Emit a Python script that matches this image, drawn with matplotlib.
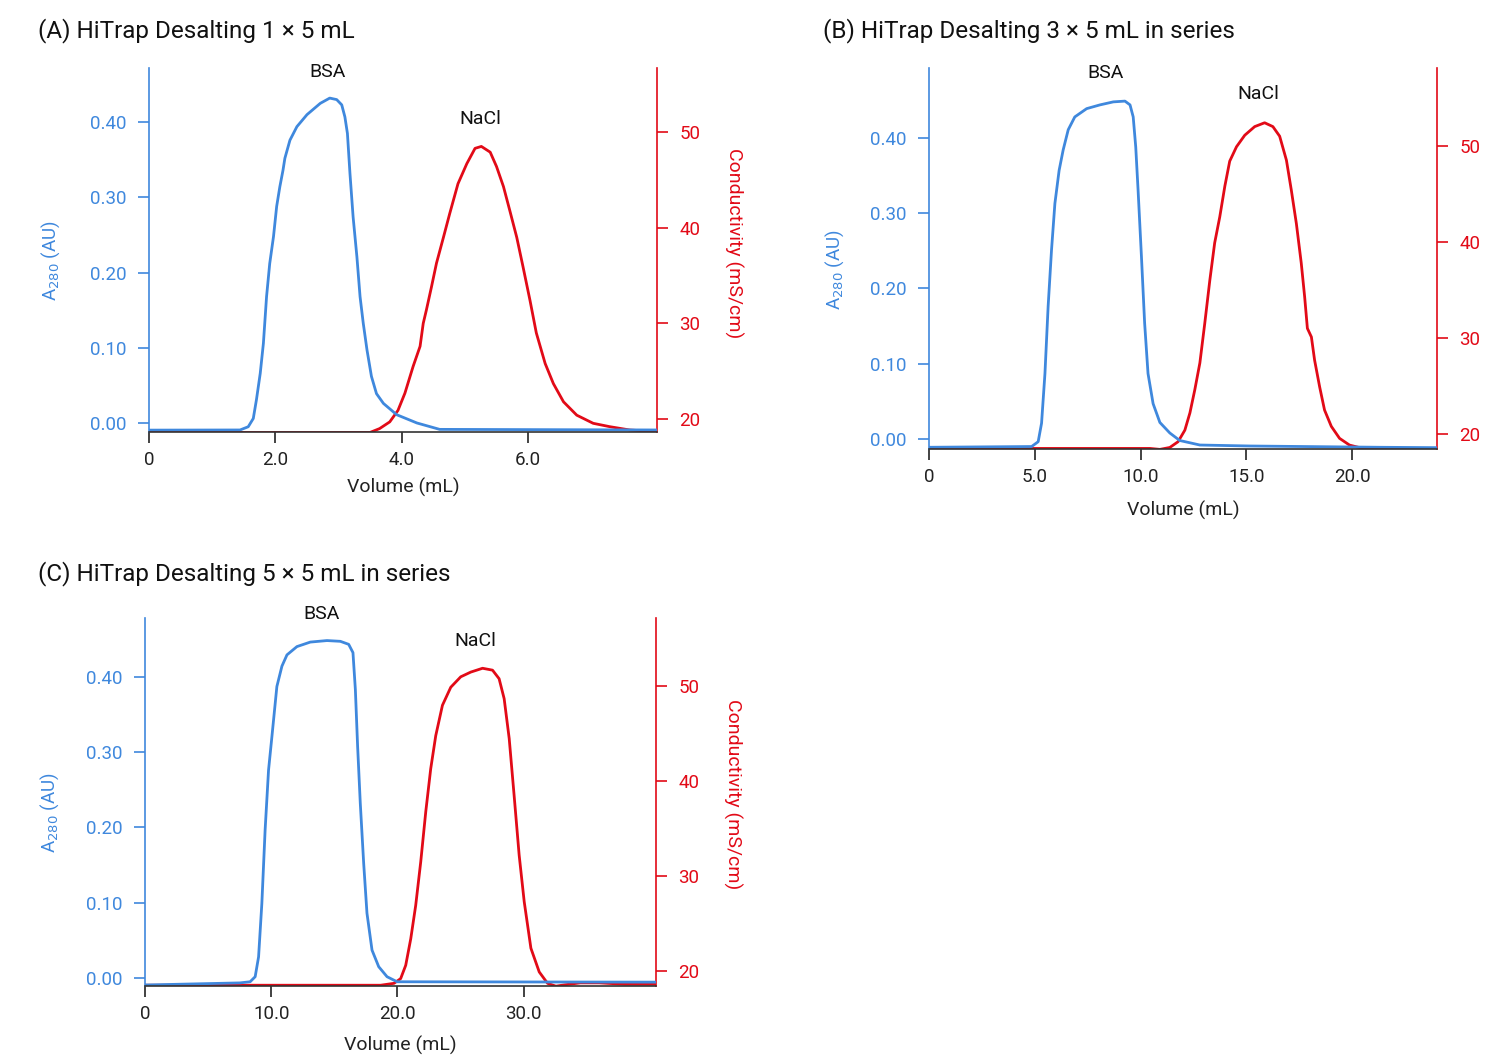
import matplotlib.pyplot as plt

plt.rcParams['font.family'] = ['Roboto', 'DejaVu Sans']

BLUE = '#3F88DD'
RED = '#E20A17'

# Panel A: HiTrap Desalting 1 x 5 mL
a_uv_x = [0, 1.44, 1.57, 1.65, 1.70, 1.76, 1.81, 1.86, 1.91, 1.97, 2.02, 2.07, 2.12, 2.15,
          2.23, 2.34, 2.50, 2.71, 2.86, 2.97, 3.05, 3.10, 3.14, 3.18, 3.23, 3.29, 3.34, 3.39,
          3.45, 3.52, 3.60, 3.71, 3.92, 4.24, 4.60, 8.04]
a_uv_y = [-0.0095, -0.0093, -0.005, 0.006, 0.031, 0.066, 0.106, 0.168, 0.212, 0.248, 0.288,
          0.314, 0.336, 0.352, 0.376, 0.394, 0.410, 0.425, 0.432, 0.430, 0.423, 0.407, 0.385,
          0.332, 0.274, 0.221, 0.168, 0.133, 0.097, 0.062, 0.039, 0.026, 0.011, 0.0, -0.0085,
          -0.0093]
a_cond_x = [0, 3.50, 3.65, 3.81, 3.94, 4.05, 4.18, 4.29, 4.34, 4.39, 4.47, 4.55, 4.66, 4.76,
            4.89, 5.03, 5.16, 5.26, 5.40, 5.50, 5.61, 5.71, 5.82, 5.92, 6.03, 6.13, 6.27,
            6.40, 6.56, 6.77, 7.03, 7.29, 7.61, 8.04]
a_cond_y = [18.6, 18.6, 19.0, 19.7, 20.9, 22.7, 25.5, 27.6, 30.0, 31.4, 33.8, 36.3, 39.0,
            41.5, 44.6, 46.7, 48.3, 48.5, 47.9, 46.4, 44.3, 41.8, 39.0, 35.9, 32.4, 29.0,
            25.8, 23.7, 21.8, 20.4, 19.55, 19.2, 18.85, 18.67]

# Panel B: HiTrap Desalting 3 x 5 mL in series
b_uv_x = [0, 4.85, 5.16, 5.32, 5.48, 5.63, 5.79, 5.95, 6.15, 6.34, 6.58, 6.89, 7.45, 8.08,
          8.71, 9.26, 9.50, 9.65, 9.77, 9.88, 10.04, 10.19, 10.35, 10.59, 10.91, 11.38,
          11.85, 12.80, 15.16, 21.3, 24.0]
b_uv_y = [-0.011, -0.010, -0.0036, 0.021, 0.087, 0.176, 0.251, 0.313, 0.357, 0.384, 0.411,
          0.428, 0.439, 0.444, 0.448, 0.449, 0.444, 0.428, 0.388, 0.331, 0.242, 0.154, 0.087,
          0.047, 0.022, 0.008, -0.002, -0.008, -0.0093, -0.011, -0.0115]
b_cond_x = [0, 10.44, 10.91, 11.38, 11.77, 12.09, 12.33, 12.56, 12.80, 13.03, 13.27, 13.50,
            13.74, 13.98, 14.21, 14.53, 14.92, 15.39, 15.86, 16.25, 16.57, 16.89, 17.12,
            17.36, 17.59, 17.75, 17.88, 18.07, 18.22, 18.46, 18.69, 19.01, 19.40, 19.87,
            20.50, 24.0]
b_cond_y = [18.5, 18.5, 18.4, 18.6, 19.2, 20.4, 22.2, 24.6, 27.4, 31.5, 36.0, 39.9, 42.6,
            45.8, 48.4, 49.9, 51.1, 52.0, 52.4, 52.0, 51.0, 48.5, 45.4, 41.9, 37.8, 34.3,
            31.0, 30.1, 27.7, 24.9, 22.5, 20.8, 19.55, 18.85, 18.5, 18.5]

# Panel C: HiTrap Desalting 5 x 5 mL in series
c_uv_x = [0, 7.52, 8.33, 8.73, 9.0, 9.26, 9.52, 9.79, 10.06, 10.45, 10.85, 11.25, 12.04,
          13.10, 14.42, 15.48, 16.14, 16.48, 16.67, 16.85, 17.06, 17.33, 17.59, 17.99, 18.52,
          19.18, 19.98, 40.5]
c_uv_y = [-0.0093, -0.0065, -0.005, 0.0017, 0.028, 0.099, 0.197, 0.276, 0.321, 0.387, 0.414,
          0.429, 0.440, 0.446, 0.448, 0.447, 0.443, 0.432, 0.383, 0.307, 0.232, 0.152, 0.086,
          0.037, 0.015, 0.0017, -0.005, -0.0055]
c_cond_x = [0, 18.67, 19.73, 20.26, 20.66, 21.06, 21.45, 21.85, 22.25, 22.64, 23.04, 23.57,
            24.23, 25.02, 25.82, 26.75, 27.54, 28.06, 28.46, 28.86, 29.25, 29.65, 30.05,
            30.58, 31.24, 31.90, 32.56, 33.3, 34.5, 36.0, 38.0, 40.5]
c_cond_y = [18.5, 18.5, 18.7, 19.2, 20.6, 23.4, 26.9, 31.5, 36.8, 41.3, 44.8, 48.0, 49.9,
            51.0, 51.5, 51.9, 51.7, 50.8, 48.7, 44.5, 38.5, 32.2, 27.3, 22.4, 19.9, 18.7,
            18.4, 18.55, 18.75, 18.75, 18.6, 18.6]

uv_ticks = [0.0, 0.1, 0.2, 0.3, 0.4]
uv_labels = ['0.00', '0.10', '0.20', '0.30', '0.40']
cond_ticks = [20, 30, 40, 50]

panels = [
    dict(title='(A) HiTrap Desalting 1 × 5 mL', rect=[0.0993, 0.5909, 0.3384, 0.3447],
         uv=(a_uv_x, a_uv_y), cond=(a_cond_x, a_cond_y), xmax=8.04,
         xticks=[0, 2, 4, 6], xlabels=['0', '2.0', '4.0', '6.0'],
         ylim=(-0.012, 0.472), clim=(18.64, 56.7),
         bsa=(2.83, 0.467), nacl=(5.25, 0.404), right_label=True,
         title_xy=(0.025, 0.971), lab=(-0.171, 0.47), xlab_y=-0.126),
    dict(title='(B) HiTrap Desalting 3 × 5 mL in series', rect=[0.6189, 0.5748, 0.3384, 0.3608],
         uv=(b_uv_x, b_uv_y), cond=(b_cond_x, b_cond_y), xmax=24.0,
         xticks=[0, 5, 10, 15, 20], xlabels=['0', '5.0', '10.0', '15.0', '20.0'],
         ylim=(-0.0133, 0.493), clim=(18.44, 58.1),
         bsa=(8.35, 0.486), nacl=(15.57, 0.458), right_label=False,
         title_xy=(0.548, 0.971), lab=(-0.163, 0.47), xlab_y=-0.136),
    dict(title='(C) HiTrap Desalting 5 × 5 mL in series', rect=[0.0966, 0.0663, 0.3405, 0.3485],
         uv=(c_uv_x, c_uv_y), cond=(c_cond_x, c_cond_y), xmax=40.5,
         xticks=[0, 10, 20, 30], xlabels=['0', '10.0', '20.0', '30.0'],
         ylim=(-0.0106, 0.478), clim=(18.42, 57.2),
         bsa=(14.0, 0.483), nacl=(26.2, 0.448), right_label=True,
         title_xy=(0.025, 0.457), lab=(-0.165, 0.47), xlab_y=-0.136),
]

fig = plt.figure(figsize=(15.01, 10.56), dpi=100)

for p in panels:
    ax = fig.add_axes(p['rect'])
    ax2 = ax.twinx()
    ax.set_zorder(ax2.get_zorder() + 1)
    ax.patch.set_visible(False)

    ax2.plot(*p['cond'], color=RED, lw=2.0)
    ax.plot(*p['uv'], color=BLUE, lw=2.0)

    ax.set_xlim(0, p['xmax'])
    ax.set_ylim(*p['ylim'])
    ax2.set_ylim(*p['clim'])

    ax.set_xticks(p['xticks'])
    ax.set_xticklabels(p['xlabels'])
    ax.set_yticks(uv_ticks)
    ax.set_yticklabels(uv_labels)
    ax2.set_yticks(cond_ticks)

    for a in (ax, ax2):
        a.spines['top'].set_visible(False)
    ax.spines['right'].set_visible(False)
    ax2.spines['left'].set_visible(False)
    ax2.spines['bottom'].set_visible(False)
    ax.spines['left'].set_color(BLUE)
    ax2.spines['right'].set_color(RED)
    ax.spines['bottom'].set_color('#333333')
    ax.spines['left'].set_linewidth(1.2)
    ax2.spines['right'].set_linewidth(1.2)
    ax.spines['bottom'].set_linewidth(1.2)

    ax.tick_params(axis='x', colors='#222222', labelsize=13.5, length=8, width=1.2, pad=6)
    ax.tick_params(axis='y', colors=BLUE, labelsize=13.5, length=8, width=1.2, pad=8)
    ax2.tick_params(axis='y', colors=RED, labelsize=13.5, length=8, width=1.2, pad=8)

    ax.set_xlabel('Volume (mL)', fontsize=14, color='#222222')
    ax.xaxis.set_label_coords(0.5, p['xlab_y'])
    ax.set_ylabel('A$_{280}$ (AU)', fontsize=13.5, color=BLUE)
    ax.yaxis.set_label_coords(*p['lab'])
    if p['right_label']:
        ax2.set_ylabel('Conductivity (mS/cm)', fontsize=14, color=RED, rotation=270)
        ax2.yaxis.set_label_coords(1.169, 0.52)

    ax.text(*p['bsa'], 'BSA', fontsize=14, ha='center', va='center', color='#111111')
    ax.text(*p['nacl'], 'NaCl', fontsize=14, ha='center', va='center', color='#111111')

    fig.text(*p['title_xy'], p['title'], fontsize=17.5, ha='left', va='center', color='#111111')

fig.savefig('out.png', dpi=100)
